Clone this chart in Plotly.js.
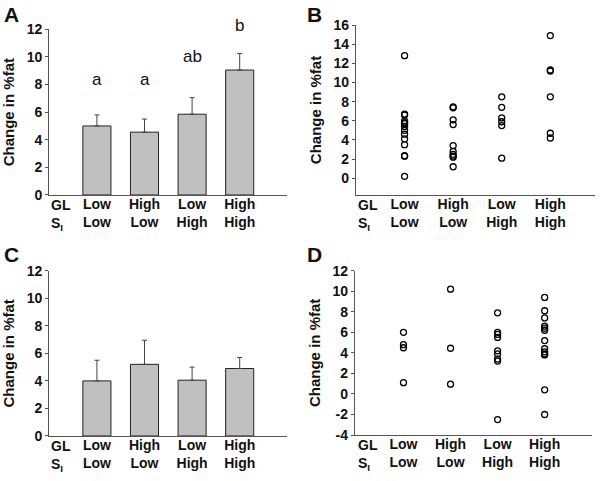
<!DOCTYPE html>
<html>
<head>
<meta charset="utf-8">
<script src="https://cdn.plot.ly/plotly-3.0.1.min.js"></script>
<style>html,body{margin:0;padding:0;background:#fff;}#chart{width:600px;height:481px;}</style>
</head>
<body>
<div id="chart"></div>
<script>
// Category labels
const glLabels = ['Low', 'High', 'Low', 'High'];
const siLabels = ['Low', 'Low', 'High', 'High'];

// Panel A: means and SE
const meanA = [5.0, 4.55, 5.85, 9.05];
const errA = [0.8, 0.95, 1.2, 1.2];
const sigLetters = ['a', 'a', 'ab', 'b'];
const sigY = [8.4, 8.4, 10.0, 12.3];

// Panel C: means and SE
const meanC = [4.0, 5.2, 4.05, 4.9];
const errC = [1.5, 1.75, 0.95, 0.8];

// Panel B: individual values per group
const ptsB_LowLow = [12.8, 6.7, 6.6, 6.0, 5.8, 5.7, 5.4, 5.0, 4.6, 4.1, 3.5, 2.35, 2.3, 0.2];
const ptsB_HighLow = [7.45, 7.35, 6.1, 5.6, 3.4, 2.8, 2.5, 2.3, 2.2, 1.2];
const ptsB_LowHigh = [8.5, 7.4, 6.3, 5.9, 5.5, 2.1];
const ptsB_HighHigh = [14.9, 11.3, 11.2, 8.5, 4.7, 4.2];

// Panel D: individual values per group
const ptsD_LowLow = [6.0, 4.8, 4.5, 1.1];
const ptsD_HighLow = [10.2, 4.45, 0.95];
const ptsD_LowHigh = [7.9, 6.0, 5.8, 5.5, 4.2, 3.9, 3.4, 3.2, -2.5];
const ptsD_HighHigh = [9.4, 8.1, 7.4, 6.6, 6.4, 6.2, 5.2, 4.4, 4.1, 3.9, 3.8, 0.4, -2.0];

// Y tick values
const yTicksA = [0, 2, 4, 6, 8, 10, 12];
const yTicksB = [0, 2, 4, 6, 8, 10, 12, 14, 16];
const yTicksC = [0, 2, 4, 6, 8, 10, 12];
const yTicksD = [-4, -2, 0, 2, 4, 6, 8, 10, 12];

const FONT = '"Liberation Sans", Arial, Helvetica, sans-serif';
const idx = glLabels.map((_, i) => i);
const catText = glLabels.map((g, i) => g + '<br>' + siLabels[i]);
const rangeA = [0, 12];

function barTrace(means, errs, xa, ya) {
  return {
    type: 'bar', x: idx, y: means, xaxis: xa, yaxis: ya, width: 0.59,
    marker: {color: '#c0c0c0', line: {color: '#222', width: 1}},
    error_y: {type: 'data', symmetric: false, array: errs, arrayminus: errs.map(() => 0),
              color: '#444', thickness: 1, width: 2.5},
    showlegend: false, hoverinfo: 'y'
  };
}

function scatterTrace(groups, xa, ya) {
  const xs = [], ys = [];
  groups.forEach((g, i) => g.forEach(v => { xs.push(i); ys.push(v); }));
  return {
    type: 'scatter', mode: 'markers', x: xs, y: ys, xaxis: xa, yaxis: ya,
    marker: {symbol: 'circle-open', size: 6, color: '#000', line: {width: 1.3, color: '#000'}},
    showlegend: false, hoverinfo: 'y'
  };
}

const data = [
  barTrace(meanA, errA, 'x', 'y'),
  scatterTrace([ptsB_LowLow, ptsB_HighLow, ptsB_LowHigh, ptsB_HighHigh], 'x2', 'y2'),
  barTrace(meanC, errC, 'x3', 'y3'),
  scatterTrace([ptsD_LowLow, ptsD_HighLow, ptsD_LowHigh, ptsD_HighHigh], 'x4', 'y4')
];

const axisCommon = {
  showgrid: false, zeroline: false, showline: true, linecolor: '#555', linewidth: 1.2,
  ticks: 'outside', ticklen: 3, tickcolor: '#555', tickwidth: 1,
  tickfont: {family: FONT, size: 14, color: '#111', weight: 'bold'}
};

function xAxis(domain, range, anchor) {
  return Object.assign({}, axisCommon, {
    domain: domain, range: range, anchor: anchor,
    tickmode: 'array', tickvals: idx, ticktext: catText, ticks: '', ticklabelstandoff: -4,
    tickfont: {family: FONT, size: 14, color: '#111', weight: 'bold'}
  });
}
function yAxis(domain, range, anchor, ticks) {
  return Object.assign({}, axisCommon, {
    domain: domain, range: range, anchor: anchor,
    tickmode: 'array', tickvals: ticks, ticktext: ticks.map(String),
    title: {text: 'Change in %fat', font: {family: FONT, size: 15, color: '#111', weight: 'bold'}, standoff: 8}
  });
}

const annotations = [];
[['A', 0.004, 0.997], ['B', 0.508, 0.997], ['C', 0.004, 0.5], ['D', 0.508, 0.5]].forEach(p => {
  annotations.push({text: p[0], xref: 'paper', yref: 'paper', x: p[1], y: p[2], xanchor: 'left', yanchor: 'top',
    showarrow: false, font: {family: FONT, size: 21, color: '#111', weight: 'bold'}});
});
[['x', 'y domain'], ['x2', 'y2 domain'], ['x3', 'y3 domain'], ['x4', 'y4 domain']].forEach(r => {
  annotations.push({text: 'GL<br>S<sub>I</sub>', xref: r[0], yref: r[1], x: -1, y: 0.002,
    xanchor: 'left', yanchor: 'top', align: 'left', showarrow: false,
    font: {family: FONT, size: 14, color: '#111', weight: 'bold'}});
});
sigLetters.forEach((t, i) => {
  annotations.push({text: t, xref: 'x', yref: 'y domain', x: i,
    y: (sigY[i] - rangeA[0]) / (rangeA[1] - rangeA[0]), xanchor: 'center', yanchor: 'middle',
    showarrow: false, font: {family: FONT, size: 17, color: '#111'}});
});

const layout = {
  width: 600, height: 481, margin: {l: 0, r: 0, t: 0, b: 0},
  paper_bgcolor: '#fff', plot_bgcolor: '#fff',
  font: {family: FONT, color: '#111'},
  xaxis: xAxis([0.0822, 0.4788], [-1, 4], 'y'),
  yaxis: yAxis([0.5946, 0.9391], rangeA, 'x', yTicksA),
  xaxis2: xAxis([0.5933, 0.9917], [-1, 3.92], 'y2'),
  yaxis2: yAxis([0.5946, 0.948], [-1.75, 16], 'x2', yTicksB),
  xaxis3: xAxis([0.0822, 0.4788], [-1, 4], 'y3'),
  yaxis3: yAxis([0.0936, 0.4372], [0, 12], 'x3', yTicksC),
  xaxis4: xAxis([0.5917, 0.9862], [-1.03, 4], 'y4'),
  yaxis4: yAxis([0.0956, 0.4372], [-4, 12], 'x4', yTicksD),
  annotations: annotations,
  bargap: 0
};
data[0].cliponaxis = false;

Plotly.newPlot('chart', data, layout, {displayModeBar: false, staticPlot: true});
</script>
</body>
</html>
